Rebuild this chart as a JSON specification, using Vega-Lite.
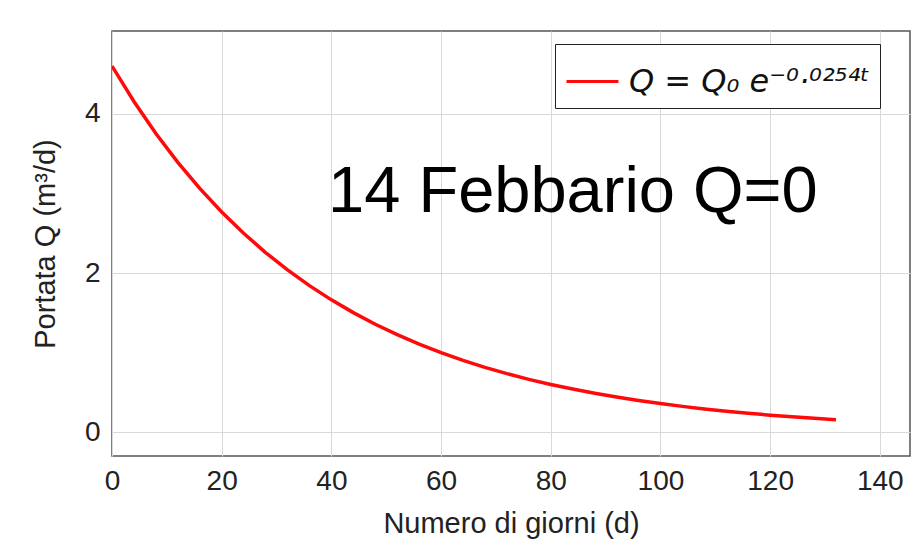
{
  "$schema": "https://vega.github.io/schema/vega-lite/v6.json",
  "width": 798,
  "height": 425,
  "autosize": {"type": "none"},
  "padding": {"left": 112, "top": 31, "right": 4, "bottom": 90},
  "background": "white",
  "datasets": {
    "curve": [
      {"t": 0, "Q": 4.6, "serie": "Q = Q₀ e⁻⁰·⁰²⁵⁴ᵗ"},
      {"t": 4, "Q": 4.156, "serie": "Q = Q₀ e⁻⁰·⁰²⁵⁴ᵗ"},
      {"t": 8, "Q": 3.754, "serie": "Q = Q₀ e⁻⁰·⁰²⁵⁴ᵗ"},
      {"t": 12, "Q": 3.392, "serie": "Q = Q₀ e⁻⁰·⁰²⁵⁴ᵗ"},
      {"t": 16, "Q": 3.064, "serie": "Q = Q₀ e⁻⁰·⁰²⁵⁴ᵗ"},
      {"t": 20, "Q": 2.768, "serie": "Q = Q₀ e⁻⁰·⁰²⁵⁴ᵗ"},
      {"t": 24, "Q": 2.501, "serie": "Q = Q₀ e⁻⁰·⁰²⁵⁴ᵗ"},
      {"t": 28, "Q": 2.259, "serie": "Q = Q₀ e⁻⁰·⁰²⁵⁴ᵗ"},
      {"t": 32, "Q": 2.041, "serie": "Q = Q₀ e⁻⁰·⁰²⁵⁴ᵗ"},
      {"t": 36, "Q": 1.844, "serie": "Q = Q₀ e⁻⁰·⁰²⁵⁴ᵗ"},
      {"t": 40, "Q": 1.665, "serie": "Q = Q₀ e⁻⁰·⁰²⁵⁴ᵗ"},
      {"t": 44, "Q": 1.505, "serie": "Q = Q₀ e⁻⁰·⁰²⁵⁴ᵗ"},
      {"t": 48, "Q": 1.359, "serie": "Q = Q₀ e⁻⁰·⁰²⁵⁴ᵗ"},
      {"t": 52, "Q": 1.228, "serie": "Q = Q₀ e⁻⁰·⁰²⁵⁴ᵗ"},
      {"t": 56, "Q": 1.109, "serie": "Q = Q₀ e⁻⁰·⁰²⁵⁴ᵗ"},
      {"t": 60, "Q": 1.002, "serie": "Q = Q₀ e⁻⁰·⁰²⁵⁴ᵗ"},
      {"t": 64, "Q": 0.905, "serie": "Q = Q₀ e⁻⁰·⁰²⁵⁴ᵗ"},
      {"t": 68, "Q": 0.818, "serie": "Q = Q₀ e⁻⁰·⁰²⁵⁴ᵗ"},
      {"t": 72, "Q": 0.739, "serie": "Q = Q₀ e⁻⁰·⁰²⁵⁴ᵗ"},
      {"t": 76, "Q": 0.667, "serie": "Q = Q₀ e⁻⁰·⁰²⁵⁴ᵗ"},
      {"t": 80, "Q": 0.603, "serie": "Q = Q₀ e⁻⁰·⁰²⁵⁴ᵗ"},
      {"t": 84, "Q": 0.545, "serie": "Q = Q₀ e⁻⁰·⁰²⁵⁴ᵗ"},
      {"t": 88, "Q": 0.492, "serie": "Q = Q₀ e⁻⁰·⁰²⁵⁴ᵗ"},
      {"t": 92, "Q": 0.445, "serie": "Q = Q₀ e⁻⁰·⁰²⁵⁴ᵗ"},
      {"t": 96, "Q": 0.402, "serie": "Q = Q₀ e⁻⁰·⁰²⁵⁴ᵗ"},
      {"t": 100, "Q": 0.363, "serie": "Q = Q₀ e⁻⁰·⁰²⁵⁴ᵗ"},
      {"t": 104, "Q": 0.328, "serie": "Q = Q₀ e⁻⁰·⁰²⁵⁴ᵗ"},
      {"t": 108, "Q": 0.296, "serie": "Q = Q₀ e⁻⁰·⁰²⁵⁴ᵗ"},
      {"t": 112, "Q": 0.268, "serie": "Q = Q₀ e⁻⁰·⁰²⁵⁴ᵗ"},
      {"t": 116, "Q": 0.242, "serie": "Q = Q₀ e⁻⁰·⁰²⁵⁴ᵗ"},
      {"t": 120, "Q": 0.218, "serie": "Q = Q₀ e⁻⁰·⁰²⁵⁴ᵗ"},
      {"t": 124, "Q": 0.197, "serie": "Q = Q₀ e⁻⁰·⁰²⁵⁴ᵗ"},
      {"t": 128, "Q": 0.178, "serie": "Q = Q₀ e⁻⁰·⁰²⁵⁴ᵗ"},
      {"t": 132, "Q": 0.161, "serie": "Q = Q₀ e⁻⁰·⁰²⁵⁴ᵗ"}
    ],
    "note": [
      {"t": 39.4, "Q": 2.77, "label": "14 Febbario Q=0"}
    ]
  },
  "config": {
    "font": "Liberation Sans",
    "view": {"stroke": "#555555", "strokeWidth": 1.5},
    "axis": {
      "grid": true,
      "gridColor": "#d9d9d9",
      "gridWidth": 1,
      "domain": false,
      "ticks": false,
      "labelFont": "Liberation Sans",
      "labelFontSize": 28,
      "labelColor": "#222222",
      "titleFont": "Liberation Sans",
      "titleFontSize": 29,
      "titleFontWeight": "normal",
      "titleColor": "#222222"
    },
    "legend": {
      "labelFont": "DejaVu Sans",
      "labelFontSize": 32,
      "labelFontStyle": "italic",
      "labelColor": "#111111",
      "labelLimit": 500
    }
  },
  "layer": [
    {
      "data": {"name": "curve"},
      "mark": {"type": "line", "strokeWidth": 3.5, "clip": true},
      "encoding": {
        "x": {
          "field": "t",
          "type": "quantitative",
          "scale": {"domain": [0, 145.5], "nice": false, "zero": false},
          "axis": {"values": [0, 20, 40, 60, 80, 100, 120, 140], "format": "d", "labelPadding": 11, "title": "Numero di giorni (d)", "titlePadding": 14, "labelFlush": false}
        },
        "y": {
          "field": "Q",
          "type": "quantitative",
          "scale": {"domain": [-0.295, 5.04], "nice": false, "zero": false},
          "axis": {"values": [0, 2, 4], "format": "d", "labelPadding": 12, "title": "Portata Q (m³/d)", "titlePadding": 24, "labelFlush": false}
        },
        "color": {
          "field": "serie",
          "type": "nominal",
          "scale": {"range": ["#ff0a0a"]},
          "legend": {
            "title": null,
            "orient": "none",
            "legendX": 443,
            "legendY": 13,
            "symbolType": "stroke",
            "symbolSize": 2700,
            "symbolStrokeWidth": 3,
            "labelOffset": 9,
            "padding": 10,
            "strokeColor": "#222222",
            "fillColor": "white",
            "cornerRadius": 0
          }
        }
      }
    },
    {
      "data": {"name": "note"},
      "mark": {"type": "text", "align": "left", "baseline": "alphabetic", "fontSize": 65, "font": "Liberation Sans", "color": "black"},
      "encoding": {
        "x": {"field": "t", "type": "quantitative"},
        "y": {"field": "Q", "type": "quantitative"},
        "text": {"field": "label"}
      }
    }
  ]
}
